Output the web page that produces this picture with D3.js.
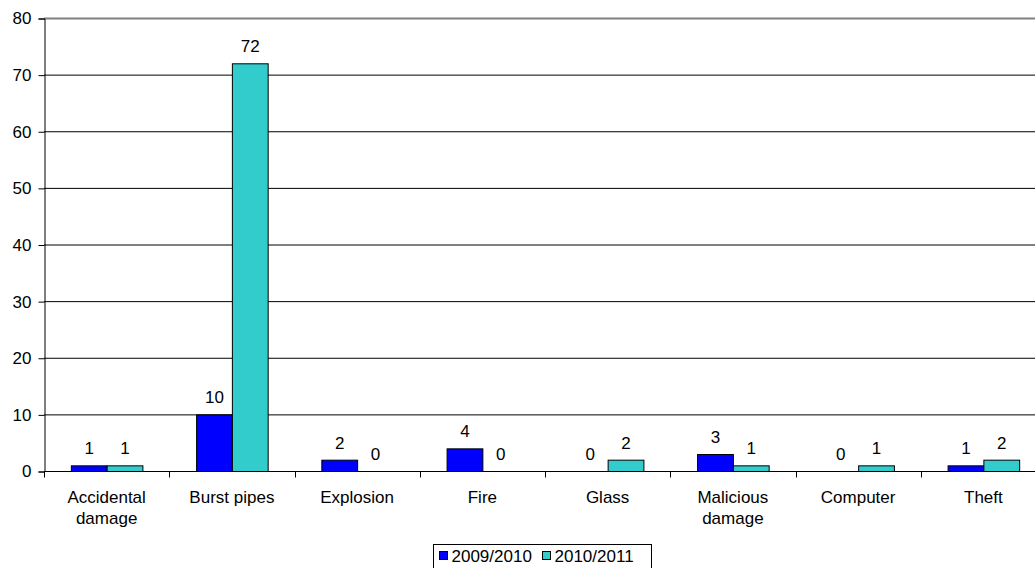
<!DOCTYPE html>
<html>
<head>
<meta charset="utf-8">
<script src="https://cdn.jsdelivr.net/npm/d3@7"></script>
<style>
  html, body { margin: 0; padding: 0; background: #fff; }
  svg { display: block; font-family: "Liberation Sans", Arial, sans-serif; }
</style>
</head>
<body>
<svg id="chart" width="1035" height="568"></svg>
<script>
// Claims by type, two financial years
const categories = [["Accidental", "damage"], ["Burst pipes"], ["Explosion"], ["Fire"], ["Glass"], ["Malicious", "damage"], ["Computer"], ["Theft"]];
const series2009 = [1, 10, 2, 4, 0, 3, 0, 1];
const series2010 = [1, 72, 0, 0, 2, 1, 1, 2];
const seriesNames = ["2009/2010", "2010/2011"];
const seriesColors = ["#0000FF", "#33CCCC"];
const yTicks = [0, 10, 20, 30, 40, 50, 60, 70, 80];

const FS = 17;
const svg = d3.select("#chart");
const plot = { left: 44, right: 1046, top: 18, bottom: 471 };

const keys = categories.map((c, i) => i);
const x = d3.scaleBand().domain(keys).range([plot.left, plot.right]).paddingInner(0).paddingOuter(0);
const y = d3.scaleLinear().domain([0, 80]).range([plot.bottom, plot.top]);

// bar width: gap between groups is 150% of a bar
const barW = x.bandwidth() / 3.5;
const x1 = d3.scaleBand().domain([0, 1]).range([0, barW * 2]);

// horizontal gridlines
svg.append("g").selectAll("line").data(yTicks.filter(t => t > 0 && t < 80)).join("line")
  .attr("x1", plot.left).attr("x2", plot.right)
  .attr("y1", d => y(d) + 0.5).attr("y2", d => y(d) + 0.5)
  .attr("stroke", "#000").attr("stroke-width", 1);

// plot-area top edge
svg.append("line").attr("x1", plot.left).attr("x2", plot.right)
  .attr("y1", y(80) + 0.5).attr("y2", y(80) + 0.5)
  .attr("stroke", "#808080").attr("stroke-width", 2);

// bars
const data = [series2009, series2010];
const groups = svg.append("g");
data.forEach((vals, s) => {
  groups.append("g").selectAll("rect").data(vals).join("rect")
    .attr("x", (d, i) => x(i) + (x.bandwidth() - barW * 2) / 2 + x1(s) + 0.5)
    .attr("y", d => y(d) + 0.5)
    .attr("width", barW)
    .attr("height", d => Math.max(0, y(0) - y(d)))
    .attr("fill", seriesColors[s])
    .attr("stroke", "#000").attr("stroke-width", 1)
    .style("display", d => d === 0 ? "none" : null);
  // value labels
  groups.append("g").selectAll("text").data(vals).join("text")
    .attr("x", (d, i) => x(i) + (x.bandwidth() - barW * 2) / 2 + x1(s) + barW / 2 + 0.5)
    .attr("y", d => y(d) - 11)
    .attr("text-anchor", "middle")
    .attr("font-size", FS)
    .attr("fill", "#000")
    .text(d => d);
});

// y axis
const yAxis = svg.append("g").attr("transform", `translate(${plot.left + 0.5},0.5)`)
  .call(d3.axisLeft(y).tickValues(yTicks).tickSize(6).tickPadding(7));
yAxis.attr("font-size", FS).attr("font-family", "Liberation Sans, Arial, sans-serif");
yAxis.select(".domain").attr("stroke", "#000");
yAxis.selectAll(".tick line").attr("stroke", "#000");
yAxis.selectAll(".tick text").attr("fill", "#000");

// x axis with ticks between categories
const xAxisG = svg.append("g").attr("transform", `translate(0,${plot.bottom + 0.5})`);
xAxisG.append("line").attr("x1", plot.left).attr("x2", plot.right)
  .attr("y1", 0).attr("y2", 0).attr("stroke", "#000");
xAxisG.selectAll("line.tk").data(keys).join("line").attr("class", "tk")
  .attr("x1", d => Math.round(x(d)) + 0.5).attr("x2", d => Math.round(x(d)) + 0.5)
  .attr("y1", 0).attr("y2", 6).attr("stroke", "#000");
const labels = xAxisG.selectAll("text").data(keys).join("text")
  .attr("x", d => x(d) + x.bandwidth() / 2)
  .attr("y", 31)
  .attr("text-anchor", "middle")
  .attr("font-size", FS)
  .attr("fill", "#000");
labels.each(function(d) {
  const t = d3.select(this);
  categories[d].forEach((line, k) => {
    t.append("tspan").attr("x", x(d) + x.bandwidth() / 2).attr("dy", k === 0 ? 0 : 21).text(line);
  });
});

// legend
const lg = svg.append("g").attr("transform", "translate(433.5,544.5)");
lg.append("rect").attr("width", 218).attr("height", 30).attr("fill", "#fff").attr("stroke", "#000");
const item = lg.selectAll("g").data(seriesNames).join("g")
  .attr("transform", (d, i) => `translate(${6 + i * 103},0)`);
item.append("rect").attr("x", 0).attr("y", 7).attr("width", 8).attr("height", 8)
  .attr("fill", (d, i) => seriesColors[i]).attr("stroke", "#000");
item.append("text").attr("x", 12).attr("y", 17).attr("font-size", FS).attr("fill", "#000").text(d => d);
</script>
</body>
</html>
